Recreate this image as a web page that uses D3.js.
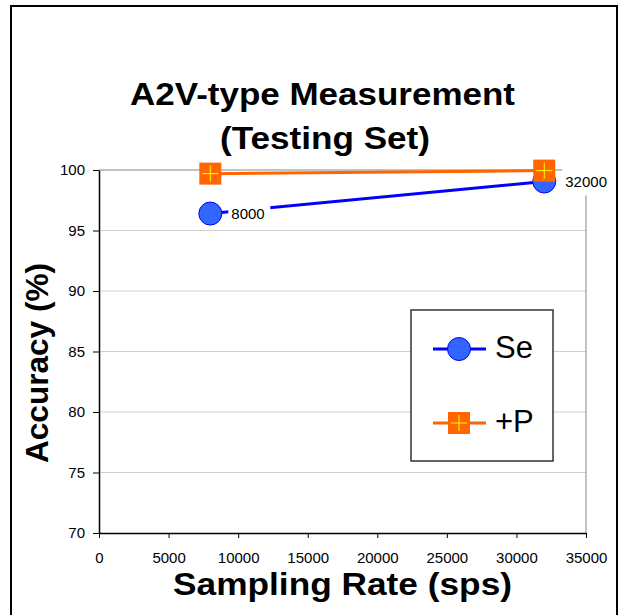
<!DOCTYPE html>
<html>
<head>
<meta charset="utf-8">
<script src="https://cdn.jsdelivr.net/npm/d3@7"></script>
<style>
  body { margin: 0; background: #fff; }
  text { font-family: "Liberation Sans", Arial, sans-serif; }
</style>
</head>
<body>
<div id="chart"></div>
<script>
// sampling rates and accuracy per series
const rates = [8000, 32000];
const seValues = [96.4, 99.05];
const ppValues = [99.7, 99.95];
const pointLabels = ["8000", "32000"];
const xTicks = [0, 5000, 10000, 15000, 20000, 25000, 30000, 35000];
const yTicks = [70, 75, 80, 85, 90, 95, 100];

const width = 622, height = 615;
const plotLeft = 99, plotRight = 586, plotTop = 170, plotBottom = 533;

const svg = d3.select("#chart")
    .append("svg")
    .attr("width", width)
    .attr("height", height);

// outer frame
svg.append("rect")
    .attr("x", 11).attr("y", 6)
    .attr("width", 606).attr("height", 640)
    .attr("fill", "#fff")
    .attr("stroke", "#000")
    .attr("stroke-width", 2);

const x = d3.scaleLinear().domain([0, 35000]).range([plotLeft, plotRight]);
const y = d3.scaleLinear().domain([70, 100]).range([plotBottom, plotTop]);

// grid lines
svg.selectAll(".grid")
    .data(yTicks.filter(d => d > 70))
    .enter().append("line")
    .attr("x1", plotLeft).attr("x2", plotRight)
    .attr("y1", d => y(d)).attr("y2", d => y(d))
    .attr("stroke", d => d === 100 ? "#888" : "#d0d0d0")
    .attr("stroke-width", 1);

// right edge of plot area
svg.append("line")
    .attr("x1", plotRight).attr("x2", plotRight)
    .attr("y1", plotTop).attr("y2", plotBottom)
    .attr("stroke", "#888");

// axes
const yAxis = svg.append("g")
    .attr("transform", `translate(${plotLeft},0)`)
    .call(d3.axisLeft(y).tickValues(yTicks).tickSize(6).tickSizeOuter(0).tickPadding(8));
const xAxis = svg.append("g")
    .attr("transform", `translate(0,${plotBottom})`)
    .call(d3.axisBottom(x).tickValues(xTicks).tickFormat(d3.format("d")).tickSize(5).tickSizeOuter(0).tickPadding(14));
[yAxis, xAxis].forEach(g => {
    g.select(".domain").attr("stroke", "#000").attr("stroke-width", 1.5);
    g.selectAll("line").attr("stroke", "#000");
    g.selectAll("text").attr("font-size", 15).attr("fill", "#000")
        .attr("font-family", "'Liberation Sans', Arial, sans-serif");
});

// titles
svg.append("text")
    .attr("x", 130).attr("y", 105)
    .attr("font-size", 31).attr("font-weight", "bold")
    .attr("textLength", 385).attr("lengthAdjust", "spacingAndGlyphs")
    .text("A2V-type Measurement");
svg.append("text")
    .attr("x", 220).attr("y", 149)
    .attr("font-size", 31).attr("font-weight", "bold")
    .attr("textLength", 210).attr("lengthAdjust", "spacingAndGlyphs")
    .text("(Testing Set)");

svg.append("text")
    .attr("x", 173).attr("y", 595)
    .attr("font-size", 32).attr("font-weight", "bold")
    .attr("textLength", 339).attr("lengthAdjust", "spacingAndGlyphs")
    .text("Sampling Rate (sps)");

svg.append("text")
    .attr("transform", "translate(48,463) rotate(-90)")
    .attr("font-size", 32).attr("font-weight", "bold")
    .attr("textLength", 200).attr("lengthAdjust", "spacingAndGlyphs")
    .text("Accuracy (%)");

const se = rates.map((r, i) => ({ x: r, y: seValues[i], label: pointLabels[i] }));
const pp = rates.map((r, i) => ({ x: r, y: ppValues[i] }));
const line = d3.line().x(d => x(d.x)).y(d => y(d.y));

// series lines
svg.append("path").datum(se).attr("d", line)
    .attr("fill", "none").attr("stroke", "#0000ff").attr("stroke-width", 3);
svg.append("path").datum(pp).attr("d", line)
    .attr("fill", "none").attr("stroke", "#ff6600").attr("stroke-width", 3);

// point labels with white boxes
const labels = svg.selectAll(".lbl")
    .data(se)
    .enter().append("g")
    .attr("transform", d => `translate(${x(d.x) + 21},${y(d.y)})`);
labels.append("rect")
    .attr("x", -3).attr("y", -14)
    .attr("width", d => d.label.length * 9 + 6).attr("height", 28)
    .attr("fill", "#fff");
labels.append("text")
    .attr("dy", "0.35em")
    .attr("font-size", 15)
    .text(d => d.label);

function circleMarker(g, cx, cy) {
    g.append("circle").attr("cx", cx).attr("cy", cy).attr("r", 11.5)
        .attr("fill", "#3366ff").attr("stroke", "#0000ff").attr("stroke-width", 1);
}
function squareMarker(g, cx, cy) {
    g.append("rect").attr("x", cx - 11).attr("y", cy - 11)
        .attr("width", 22).attr("height", 22).attr("fill", "#ff6600");
    g.append("path")
        .attr("d", `M${cx - 8},${cy}H${cx + 8}M${cx},${cy - 8}V${cy + 8}`)
        .attr("stroke", "#ffff00").attr("stroke-width", 1);
}

se.forEach(d => circleMarker(svg, x(d.x), y(d.y)));
pp.forEach(d => squareMarker(svg, x(d.x), y(d.y)));

// legend
const legend = svg.append("g");
legend.append("rect")
    .attr("x", 411).attr("y", 310)
    .attr("width", 142).attr("height", 151)
    .attr("fill", "#fff").attr("stroke", "#333").attr("stroke-width", 1.5);
const items = [
    { name: "Se", color: "#0000ff", marker: circleMarker, y: 349 },
    { name: "+P", color: "#ff6600", marker: squareMarker, y: 423 }
];
items.forEach(it => {
    legend.append("line")
        .attr("x1", 433).attr("x2", 486)
        .attr("y1", it.y).attr("y2", it.y)
        .attr("stroke", it.color).attr("stroke-width", 3);
    it.marker(legend, 459, it.y);
    legend.append("text")
        .attr("x", 495).attr("y", it.y + 9)
        .attr("font-size", 31)
        .text(it.name);
});
</script>
</body>
</html>
